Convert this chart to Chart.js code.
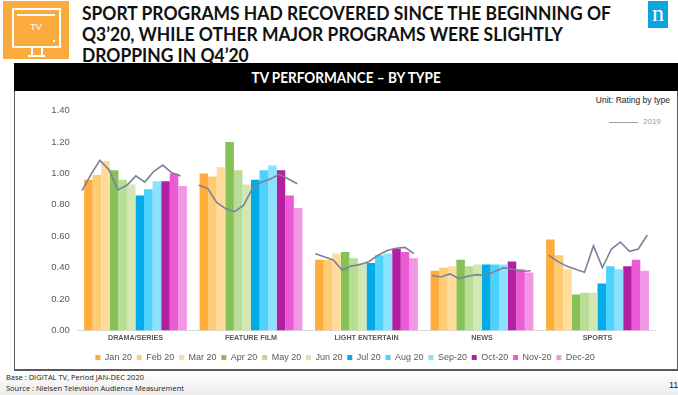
<!DOCTYPE html>
<html>
<head>
<meta charset="utf-8">
<script src="https://cdn.jsdelivr.net/npm/chart.js@4"></script>
<style>
html, body { margin: 0; padding: 0; background: #fff; overflow: hidden; }
#page { position: relative; width: 678px; height: 395px; overflow: hidden; font-family: "Liberation Sans", Arial, sans-serif; }
#page div { position: absolute; }
#footer { left: 0; top: 371px; width: 678px; height: 24px; background: linear-gradient(#fff, #ececec); }
#frame { left: 14px; top: 63px; width: 662px; height: 306px; border: solid #595959; border-width: 0 1px 2px 1px; }
#band { left: 14px; top: 63px; width: 664px; height: 28px; background: #000; color: #fff; font: bold 15.5px/29px Lato, sans-serif; text-align: center; }
#band span { display: inline-block; transform: scaleX(.875); }
#title { left: 82px; top: 2px; width: 600px; color: #111; font: bold 19.4px/21px Lato, sans-serif; white-space: nowrap; transform: scaleX(.9); transform-origin: left top; }
#icon { left: 3px; top: 1px; width: 66px; height: 58px; background: #FBAB3E; }
#logo { left: 648px; top: 1px; width: 20px; height: 27px; background: #0AA5E0; color: #fff; font: 24px/25px "Liberation Serif", serif; text-align: center; }
canvas { position: absolute; left: 0; top: 0; }
</style>
</head>
<body>
<div id="page">
  <div id="footer"></div>
  <div id="frame"></div>
  <div id="band"><span>TV PERFORMANCE – BY TYPE</span></div>
  <div id="icon">
    <div style="left:9px;top:7px;width:45px;height:36px;border:2px solid #fff"></div>
    <div style="left:14px;top:13px;width:38px;height:2px;background:#fff"></div>
    <div style="left:50px;top:39px;width:2px;height:2px;background:#fff"></div>
    <div style="left:0;top:21px;width:66px;text-align:center;color:#fff;font:9px 'Liberation Sans'">TV</div>
    <div style="left:28px;top:47px;width:8px;height:7px;border:solid #fff;border-width:0 2px"></div>
    <div style="left:25px;top:54px;width:17px;height:2px;background:#fff"></div>
  </div>
  <div id="title">SPORT PROGRAMS HAD RECOVERED SINCE THE BEGINNING OF<br>Q3’20, WHILE OTHER MAJOR PROGRAMS WERE SLIGHTLY<br>DROPPING IN Q4’20</div>
  <div id="logo">n</div>
  <div style="right:8px;top:95px;font-size:8.5px;color:#222;white-space:nowrap">Unit: Rating by type</div>
  <div style="left:609px;top:122px;width:29px;height:1px;background:#a0a0a0"></div>
  <div style="left:643px;top:117px;font-size:8px;color:#9a9a9a">2019</div>
  <div style="left:6px;top:372px;font:7.5px 'Open Sans',sans-serif;color:#222;white-space:nowrap">Base : DIGITAL TV, Period JAN-DEC 2020</div>
  <div style="left:6px;top:383px;font:7.5px 'Open Sans',sans-serif;color:#222;white-space:nowrap">Source : Nielsen Television Audience Measurement</div>
  <div style="left:669px;top:380px;font-size:9px;color:#222">11</div>
  <canvas id="chart" width="678" height="395"></canvas>
  <canvas id="lineChart" width="678" height="395"></canvas>
</div>
<script>
const types = ['DRAMA/SERIES', 'FEATURE FILM', 'LIGHT ENTERTAIN', 'NEWS', 'SPORTS'];
const months = ['Jan 20', 'Feb 20', 'Mar 20', 'Apr 20', 'May 20', 'Jun 20', 'Jul 20', 'Aug 20', 'Sep-20', 'Oct-20', 'Nov-20', 'Dec-20'];
const monthColors = ['#FFAC3B', '#FFCC76', '#FFDC9C', '#86C157', '#B9DD94', '#D2E7B1', '#00ABE7', '#4DD2FF', '#8CE1FF', '#B31FA0', '#EC5BD5', '#F396E6'];
const yTicks = ['0.00', '0.20', '0.40', '0.60', '0.80', '1.00', '1.20', '1.40'];

// 2020 rating, one row per month, columns follow types
const jan20 = [0.96, 1.00, 0.45, 0.38, 0.58];
const feb20 = [0.99, 0.98, 0.45, 0.40, 0.48];
const mar20 = [1.08, 1.04, 0.49, 0.41, 0.39];
const apr20 = [1.02, 1.20, 0.50, 0.45, 0.23];
const may20 = [0.96, 1.02, 0.46, 0.41, 0.24];
const jun20 = [0.93, 0.93, 0.43, 0.42, 0.24];
const jul20 = [0.86, 0.96, 0.43, 0.42, 0.30];
const aug20 = [0.90, 1.02, 0.48, 0.42, 0.41];
const sep20 = [0.95, 1.05, 0.49, 0.42, 0.39];
const oct20 = [0.95, 1.02, 0.52, 0.44, 0.41];
const nov20 = [1.00, 0.86, 0.50, 0.39, 0.45];
const dec20 = [0.92, 0.78, 0.46, 0.37, 0.38];
const series2020 = [jan20, feb20, mar20, apr20, may20, jun20, jul20, aug20, sep20, oct20, nov20, dec20];

// 2019 line, Jan to Dec for each type
const drama2019 = [0.885, 0.99, 1.08, 1.02, 0.89, 0.92, 0.98, 0.94, 1.01, 1.05, 1.00, 0.98];
const film2019 = [0.92, 0.90, 0.81, 0.77, 0.75, 0.79, 0.90, 0.94, 0.96, 0.99, 0.96, 0.93];
const light2019 = [0.48, 0.46, 0.44, 0.375, 0.40, 0.41, 0.43, 0.47, 0.50, 0.515, 0.52, 0.48];
const news2019 = [0.34, 0.33, 0.35, 0.32, 0.335, 0.345, 0.34, 0.365, 0.39, 0.38, 0.365, 0.37];
const sports2019 = [0.47, 0.43, 0.40, 0.38, 0.36, 0.53, 0.39, 0.51, 0.555, 0.495, 0.51, 0.60];
const lines2019 = [drama2019, film2019, light2019, news2019, sports2019];

// 13 slots per type on the line's own x axis, the empty one breaks the line between types
const linePoints = [];
lines2019.forEach((row, t) => {
    row.forEach((v, m) => linePoints.push({ x: t * 13 + m, y: v }));
    linePoints.push({ x: t * 13 + 12, y: null });
});

new Chart(document.getElementById('chart').getContext('2d'), {
    type: 'bar',
    data: {
        labels: types,
        datasets: months.map((m, i) => ({
            label: m,
            data: series2020[i],
            backgroundColor: monthColors[i],
            categoryPercentage: 0.89,
            barPercentage: 1
        }))
    },
    options: {
        responsive: false,
        animation: false,
        layout: { padding: { top: 110.6, right: 22.75, bottom: 23, left: 35 } },
        plugins: {
            tooltip: { enabled: false },
            legend: {
                position: 'bottom',
                labels: {
                    boxWidth: 5,
                    boxHeight: 5,
                    padding: 4.8,
                    color: '#595959',
                    font: { family: '"Liberation Sans"', size: 9 }
                }
            }
        },
        scales: {
            x: {
                afterFit: s => { s.height += 3; },
                grid: { display: false, drawTicks: false },
                border: { color: '#D9D9D9', width: 1 },
                ticks: { color: '#595959', padding: 3, maxRotation: 0, font: { family: '"Liberation Sans"', size: 7.2, weight: 'bold' } }
            },
            y: {
                min: 0,
                max: 1.4,
                afterFit: s => { s.width = 42.75; },
                grid: { display: false, drawTicks: false },
                border: { display: false },
                ticks: {
                    stepSize: 0.2,
                    padding: 8,
                    color: '#595959',
                    font: { family: '"Liberation Sans"', size: 9.5 },
                    callback: (v, i) => yTicks[i]
                }
            }
        }
    }
});

// the 2019 line goes on a second canvas, same y range and plot box, bars and a linear x don't group well in one chart
new Chart(document.getElementById('lineChart').getContext('2d'), {
    type: 'line',
    data: {
        datasets: [{
            label: '2019',
            data: linePoints,
            borderColor: '#78839A',
            borderWidth: 1.6,
            pointRadius: 0,
            tension: 0,
            spanGaps: false
        }]
    },
    options: {
        responsive: false,
        animation: false,
        layout: { padding: { top: 110.6, right: 22.75, bottom: 66.7, left: 77.75 } },
        plugins: { tooltip: { enabled: false }, legend: { display: false } },
        scales: {
            x: { type: 'linear', display: false, min: -0.474, max: 63.886 },
            y: { display: false, min: 0, max: 1.4 }
        }
    }
});
</script>
</body>
</html>
